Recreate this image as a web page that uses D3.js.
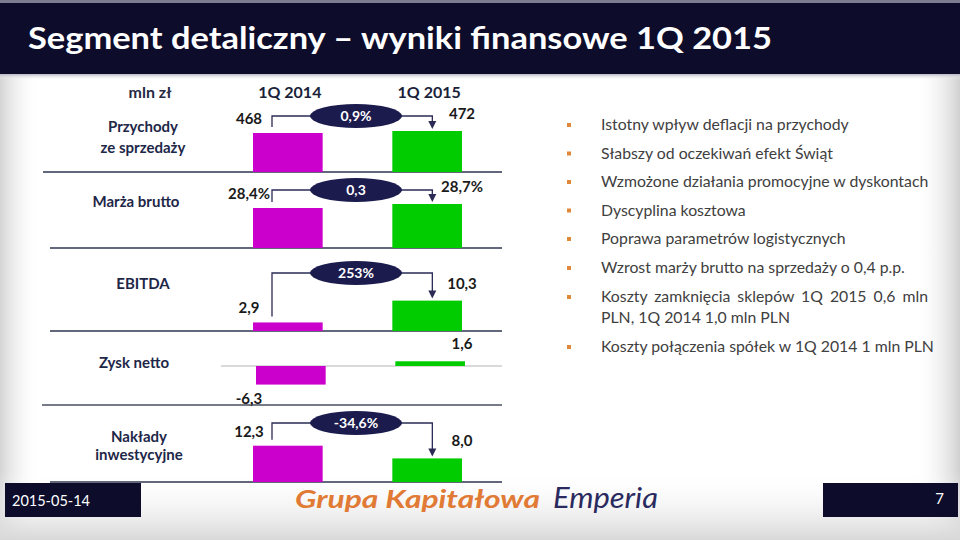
<!DOCTYPE html>
<html>
<head>
<meta charset="utf-8">
<script src="https://cdn.jsdelivr.net/npm/d3@7"></script>
<style>
  html, body { margin: 0; padding: 0; background: #ffffff; }
  svg { display: block; }
  text { font-family: Lato, "Open Sans", "DejaVu Sans", sans-serif; }
</style>
</head>
<body>
<svg id="chart" width="960" height="540"></svg>
<script>
// ---------- DATA ----------
const title = "Segment detaliczny – wyniki finansowe 1Q 2015";
const unitLabel = "mln zł";
const periods = ["1Q 2014", "1Q 2015"];
const rowLabels = [["Przychody", "ze sprzedaży"], ["Marża brutto"], ["EBITDA"], ["Zysk netto"], ["Nakłady", "inwestycyjne"]];
const values2014 = [468, 28.4, 2.9, -6.3, 12.3];
const values2015 = [472, 28.7, 10.3, 1.6, 8.0];
const labels2014 = ["468", "28,4%", "2,9", "-6,3", "12,3"];
const labels2015 = ["472", "28,7%", "10,3", "1,6", "8,0"];
const changeLabels = ["0,9%", "0,3", "253%", null, "-34,6%"];
const bullets = [
  "Istotny wpływ deflacji na przychody",
  "Słabszy od oczekiwań efekt Świąt",
  "Wzmożone działania promocyjne w dyskontach",
  "Dyscyplina kosztowa",
  "Poprawa parametrów logistycznych",
  "Wzrost marży brutto na sprzedaży o 0,4 p.p.",
  ["Koszty zamknięcia sklepów 1Q 2015 0,6 mln", "PLN, 1Q 2014 1,0 mln PLN"],
  "Koszty połączenia spółek w 1Q 2014 1 mln PLN"
];
const footerDate = "2015-05-14";
const pageNumber = "7";

// ---------- LAYOUT ----------
const svg = d3.select("#chart");
const W = 960, H = 540;
const navy = "#0d0d2b";
const labelColor = "#1e2748";
const magenta = "#cc00cc", green = "#00cc00";

const defs = svg.append("defs");
const gl = defs.append("linearGradient").attr("id", "gLeft").attr("x1", 0).attr("x2", 1).attr("y1", 0).attr("y2", 0);
gl.append("stop").attr("offset", 0).attr("stop-color", "#d4d4d4");
gl.append("stop").attr("offset", 1).attr("stop-color", "#ffffff").attr("stop-opacity", 0);
const gr = defs.append("linearGradient").attr("id", "gRight").attr("x1", 0).attr("x2", 1).attr("y1", 0).attr("y2", 0);
gr.append("stop").attr("offset", 0).attr("stop-color", "#ffffff").attr("stop-opacity", 0);
gr.append("stop").attr("offset", 1).attr("stop-color", "#d0d0d0");
const gb = defs.append("linearGradient").attr("id", "gBottom").attr("x1", 0).attr("x2", 0).attr("y1", 0).attr("y2", 1);
gb.append("stop").attr("offset", 0).attr("stop-color", "#ffffff").attr("stop-opacity", 0);
gb.append("stop").attr("offset", 1).attr("stop-color", "#d8d8d8");
const gh = defs.append("linearGradient").attr("id", "gHead").attr("x1", 0).attr("x2", 0).attr("y1", 0).attr("y2", 1);
gh.append("stop").attr("offset", 0).attr("stop-color", "#b8b8c4");
gh.append("stop").attr("offset", 1).attr("stop-color", "#ffffff").attr("stop-opacity", 0);

// background
svg.append("rect").attr("width", W).attr("height", H).attr("fill", "#ffffff");
svg.append("rect").attr("x", 0).attr("y", 0).attr("width", 40).attr("height", H).attr("fill", "url(#gLeft)");
svg.append("rect").attr("x", 915).attr("y", 0).attr("width", 45).attr("height", H).attr("fill", "url(#gRight)");
svg.append("rect").attr("x", 0).attr("y", 470).attr("width", W).attr("height", 70).attr("fill", "url(#gBottom)");

// header
svg.append("rect").attr("x", 0).attr("y", 0).attr("width", W).attr("height", 3).attr("fill", "#7d7d92");
svg.append("rect").attr("x", 0).attr("y", 3).attr("width", W).attr("height", 71).attr("fill", navy);
svg.append("rect").attr("x", 0).attr("y", 74).attr("width", W).attr("height", 6).attr("fill", "url(#gHead)");
svg.append("text").attr("x", 28).attr("y", 49)
  .attr("fill", "#ffffff").attr("font-size", 31).attr("font-weight", 700)
  .attr("textLength", 744).attr("lengthAdjust", "spacingAndGlyphs")
  .text(title);

// scales
const x = d3.scaleBand().domain(periods).range([253, 462]).paddingInner(0.5).paddingOuter(0);
const baselines = [172, 248, 331, 366, 482];
const shared = d3.scaleLinear().domain([0, 10]).range([0, 29.5]);
const rowScales = [
  d3.scaleLinear().domain([390, 472]).range([0, 41]),
  d3.scaleLinear().domain([25.4, 28.7]).range([0, 44]),
  shared, shared, shared
];
const yOf = (i, v) => baselines[i] - rowScales[i](v);
const labelCx = [143, 136, 143, 134, 139];
const labelBase = [[132, 153], [207], [289], [368], [442, 460]];
const ovalOffset = [56, 58, 58, 0, 59];
const ovalCx = 356;

// column headers
svg.append("text").attr("x", 150).attr("y", 98).attr("text-anchor", "middle")
  .attr("fill", "#262a45").attr("font-size", 16).attr("font-weight", 700).text(unitLabel);
svg.selectAll("text.period").data(periods).join("text").attr("class", "period")
  .attr("x", d => x(d) + x.bandwidth() / 2 + 2).attr("y", 98).attr("text-anchor", "middle")
  .attr("fill", "#1a1f3a").attr("font-size", 16).attr("font-weight", 700).text(d => d);

// separator lines
const lines = [
  {y: 172, x1: 43, x2: 502, c: "#2e3550", w: 1.5},
  {y: 248, x1: 50, x2: 502, c: "#2e3550", w: 1.5},
  {y: 331, x1: 50, x2: 502, c: "#2e3550", w: 1.5},
  {y: 366, x1: 221, x2: 502, c: "#b4b4b4", w: 1},
  {y: 405, x1: 42, x2: 502, c: "#4a4f60", w: 1.5},
  {y: 482, x1: 50, x2: 502, c: "#2e3550", w: 1.5}
];
svg.selectAll("line.sep").data(lines).join("line").attr("class", "sep")
  .attr("x1", d => d.x1).attr("x2", d => d.x2).attr("y1", d => d.y).attr("y2", d => d.y)
  .attr("stroke", d => d.c).attr("stroke-width", d => d.w);

// row labels
rowLabels.forEach((lbl, i) => {
  lbl.forEach((t, j) => {
    svg.append("text").attr("x", labelCx[i]).attr("y", labelBase[i][j]).attr("text-anchor", "middle")
      .attr("fill", labelColor).attr("font-size", 15).attr("font-weight", 700).text(t);
  });
});

// bars
const rows = d3.range(rowLabels.length);
const barData = [];
rows.forEach(i => {
  barData.push({i, p: periods[0], v: values2014[i], c: magenta});
  barData.push({i, p: periods[1], v: values2015[i], c: green});
});
svg.selectAll("rect.bar").data(barData).join("rect").attr("class", "bar")
  .attr("x", d => x(d.p) + (d.i === 3 ? 3 : 0))
  .attr("width", x.bandwidth())
  .attr("y", d => Math.min(yOf(d.i, d.v), baselines[d.i]))
  .attr("height", d => Math.abs(yOf(d.i, d.v) - baselines[d.i]))
  .attr("fill", d => d.c);

// value labels
rows.forEach(i => {
  const v1 = values2014[i], v2 = values2015[i];
  const y1 = v1 >= 0 ? yOf(i, v1) - 9 : yOf(i, v1) + 19;
  const y2 = v2 >= 0 ? yOf(i, v2) - 12 : yOf(i, v2) + 19;
  svg.append("text").attr("x", 249).attr("y", y1).attr("text-anchor", "middle")
    .attr("fill", "#1a1a1a").attr("font-size", 15).attr("font-weight", 700).text(labels2014[i]);
  svg.append("text").attr("x", 462).attr("y", y2).attr("text-anchor", "middle")
    .attr("fill", "#1a1a1a").attr("font-size", 15).attr("font-weight", 700).text(labels2015[i]);
});

// change brackets
rows.forEach(i => {
  if (!changeLabels[i]) return;
  const oy = baselines[i] - ovalOffset[i];
  const xl = x(periods[0]) + 19, xr = x(periods[1]) + 40;
  const yStart = yOf(i, values2014[i]) - 6;
  const yEnd = yOf(i, values2015[i]) - 2;
  svg.append("path")
    .attr("d", `M${xl},${yStart}V${oy}H${xr}V${yEnd - 7}`)
    .attr("fill", "none").attr("stroke", "#2a2a55").attr("stroke-width", 1.3);
  svg.append("path")
    .attr("d", `M${xr - 4},${yEnd - 8}L${xr + 4},${yEnd - 8}L${xr},${yEnd}Z`)
    .attr("fill", "#2a2a55");
  svg.append("ellipse").attr("cx", ovalCx).attr("cy", oy).attr("rx", 46).attr("ry", 12)
    .attr("fill", "#1b1b4e");
  svg.append("text").attr("x", ovalCx).attr("y", oy + 5).attr("text-anchor", "middle")
    .attr("fill", "#ffffff").attr("font-size", 14).attr("font-weight", 700).text(changeLabels[i]);
});

// bullets
const bulletBase = [130, 158.5, 187, 215.5, 244, 273, 302, 352];
bullets.forEach((b, k) => {
  const y = bulletBase[k];
  svg.append("rect").attr("x", 567).attr("y", y - 7).attr("width", 4).attr("height", 4).attr("fill", "#e0883a");
  const linesTxt = Array.isArray(b) ? b : [b];
  linesTxt.forEach((t, j) => {
    const tx = svg.append("text").attr("x", 601).attr("y", y + j * 21)
      .attr("fill", "#404040").attr("font-size", 15.8).text(t);
    if (Array.isArray(b) && j === 0) {
      const len = tx.node().getComputedTextLength();
      const gaps = t.split(" ").length - 1;
      tx.attr("word-spacing", (928 - 601 - len) / gaps);
    }
  });
});

// footer
svg.append("rect").attr("x", 5).attr("y", 483).attr("width", 136).attr("height", 34).attr("fill", navy);
svg.append("text").attr("x", 12).attr("y", 506).attr("fill", "#ffffff").attr("font-size", 16)
  .attr("textLength", 78).attr("lengthAdjust", "spacingAndGlyphs").text(footerDate);
svg.append("rect").attr("x", 823).attr("y", 483).attr("width", 135).attr("height", 34).attr("fill", navy);
svg.append("text").attr("x", 944).attr("y", 504).attr("text-anchor", "end").attr("fill", "#ffffff").attr("font-size", 15).text(pageNumber);

svg.append("text").attr("x", 295).attr("y", 508).attr("fill", "#e07a35")
  .attr("font-size", 24).attr("font-weight", 700).attr("font-style", "italic")
  .attr("textLength", 245).attr("lengthAdjust", "spacingAndGlyphs").text("Grupa Kapitałowa");
svg.append("text").attr("x", 553).attr("y", 508).attr("fill", "#2a2a5e")
  .attr("font-size", 29).attr("font-style", "italic")
  .attr("textLength", 105).attr("lengthAdjust", "spacingAndGlyphs").text("Emperia");
</script>
</body>
</html>
